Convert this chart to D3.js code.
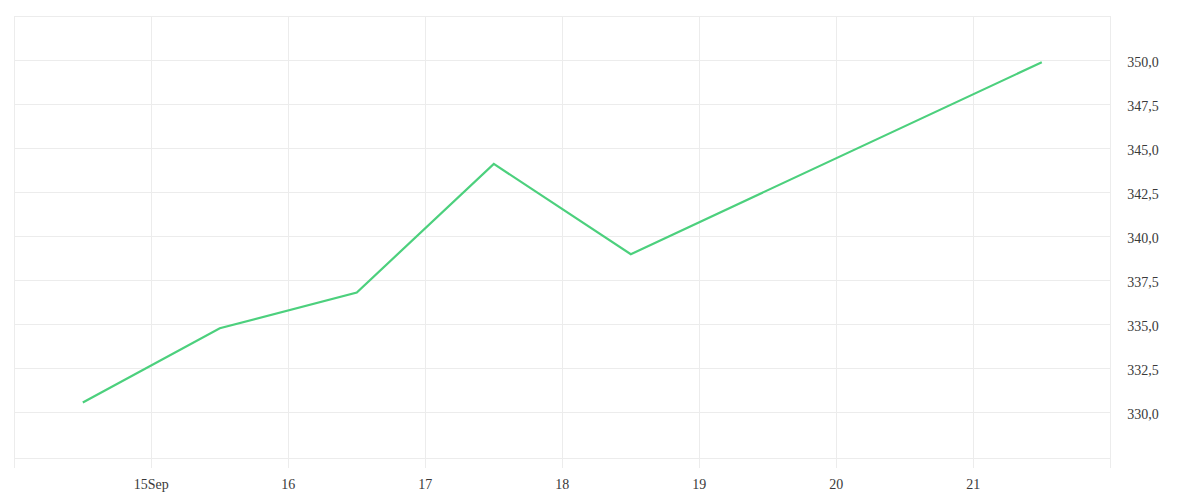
<!DOCTYPE html>
<html>
<head>
<meta charset="utf-8">
<script src="https://cdn.jsdelivr.net/npm/d3@7"></script>
<style>
  body { margin: 0; background: #fff; }
  text { font-family: "Liberation Serif", serif; font-size: 14px; fill: #3a3a3a; }
</style>
</head>
<body>
<div id="chart"></div>
<script>
// values (midday of each day)
const dates = ["2023-09-14", "2023-09-15", "2023-09-16", "2023-09-17", "2023-09-18", "2023-09-21"];
const prices = [330.55, 334.77, 336.8, 344.11, 338.98, 349.89];
const yTicks = [330, 332.5, 335, 337.5, 340, 342.5, 345, 347.5, 350];

const W = 1200, H = 500;
const plot = { left: 14.3, right: 1110.3, top: 16, bottom: 458 };

const parse = d3.utcParse("%Y-%m-%d");
const points = dates.map((d, i) => ({ t: d3.utcHour.offset(parse(d), 12), v: prices[i] }));

const x = d3.scaleUtc()
  .domain([parse("2023-09-14"), parse("2023-09-22")])
  .range([plot.left, plot.right]);

const y = d3.scaleLinear()
  .domain([327.39, 352.52])
  .range([plot.bottom, plot.top]);

const comma = d3.formatLocale({ decimal: ",", thousands: ".", grouping: [3], currency: ["", ""] }).format(".1f");

const svg = d3.select("#chart").append("svg")
  .attr("width", W)
  .attr("height", H);

const gridColor = "#ececec";
const px = v => Math.floor(v) + 0.5;

// horizontal grid
svg.append("g")
  .selectAll("line")
  .data(yTicks)
  .join("line")
  .attr("x1", px(plot.left)).attr("x2", px(plot.right))
  .attr("y1", d => px(y(d))).attr("y2", d => px(y(d)))
  .attr("stroke", gridColor);

// vertical grid + tick marks below the frame
const days = d3.utcDay.range(parse("2023-09-14"), d3.utcDay.offset(parse("2023-09-22"), 1));
svg.append("g")
  .selectAll("line")
  .data(days)
  .join("line")
  .attr("x1", d => px(x(d))).attr("x2", d => px(x(d)))
  .attr("y1", plot.top).attr("y2", plot.bottom + 10)
  .attr("stroke", gridColor);

// frame
svg.append("rect")
  .attr("x", px(plot.left)).attr("y", px(plot.top))
  .attr("width", Math.floor(plot.right) - Math.floor(plot.left))
  .attr("height", plot.bottom - plot.top)
  .attr("fill", "none")
  .attr("stroke", gridColor);

// x labels
const dayLabel = d => d.getUTCDate() === 15 ? "15Sep" : d3.utcFormat("%-d")(d);
svg.append("g")
  .selectAll("text")
  .data(days.filter(d => d.getUTCDate() >= 15 && d.getUTCDate() <= 21))
  .join("text")
  .attr("x", d => x(d))
  .attr("y", 489)
  .attr("text-anchor", "middle")
  .text(dayLabel);

// y labels
svg.append("g")
  .selectAll("text")
  .data(yTicks)
  .join("text")
  .attr("x", plot.right + 17)
  .attr("y", d => y(d) + 7)
  .text(d => comma(d));

// price line
const line = d3.line()
  .x(d => x(d.t))
  .y(d => y(d.v));

svg.append("path")
  .datum(points)
  .attr("d", line)
  .attr("fill", "none")
  .attr("stroke", "#4cd07d")
  .attr("stroke-width", 2.2)
  .attr("stroke-linejoin", "miter");
</script>
</body>
</html>
